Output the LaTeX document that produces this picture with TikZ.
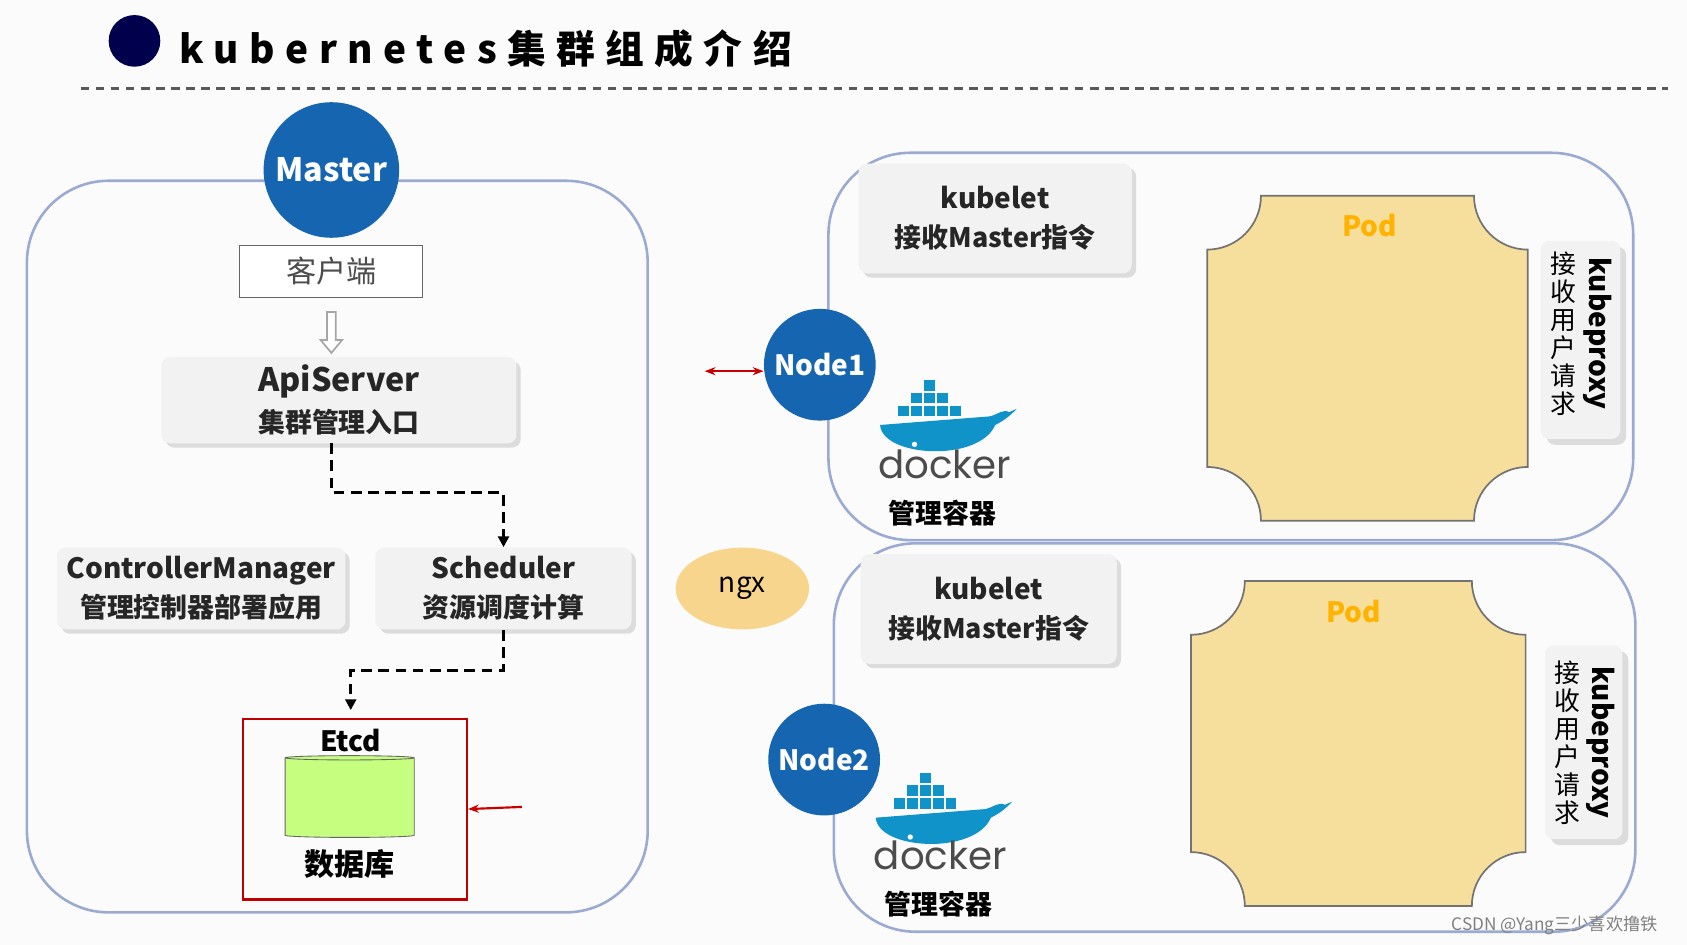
\documentclass[tikz,border=0pt]{standalone}
\usepackage{fontspec}
\setmainfont{Noto Sans CJK SC}
\newfontfamily\ttl[LetterSpace=27]{Noto Sans CJK SC}
\newfontfamily\dk{Poppins}
\usetikzlibrary{arrows.meta,shadows,shapes.geometric}
\definecolor{kblue}{HTML}{1565B0}
\definecolor{panel}{HTML}{9AAAD0}
\definecolor{podc}{HTML}{F6DE9C}
\tikzset{
 pnl/.style={draw=panel,line width=1.2pt,rounded corners=38pt},
 circ/.style={circle,fill=kblue,text=white,font=\bfseries},
 gbox/.style={rounded corners=4pt,fill=gray!10,drop shadow={opacity=0.25,shadow xshift=2pt,shadow yshift=-2pt},align=center,font=\bfseries\fontsize{13}{18}\selectfont,text=black!85},
 dsh/.style={dashed,line width=1.5pt,dash pattern=on 5pt off 3pt,-{Triangle[length=5pt,width=5pt]}},
 pod/.style={fill=podc,draw=black!55,line width=0.8pt},
 vbox/.style={rounded corners=4pt,fill=gray!10,drop shadow={opacity=0.25}},
}
\newcommand{\podshape}[4]{% x1 y1 x2 y2
 \path[pod] (#1+50,#2) -- (#3-50,#2) arc[start angle=180,end angle=270,radius=25pt]
 -- (#3,#4-50) arc[start angle=90,end angle=180,radius=25pt]
 -- (#1+50,#4) arc[start angle=0,end angle=90,radius=25pt]
 -- (#1,#2+50) arc[start angle=270,end angle=360,radius=25pt] -- cycle;}
\newcommand{\whale}[2]{%
 \begin{scope}[shift={(#1,#2)}]
 \fill[kblue!70!cyan] (-62,10) .. controls (-60,40) and (30,45) .. (45,10) .. controls (55,5) and (60,0) .. (65,-5) -- (58,-2) .. controls (52,-5) and (48,0) .. (40,2) -- cycle;
 \foreach \cx/\cy in {-45/2,-33/2,-21/2,-9/2,3/2,-33/-10,-21/-10,-9/-10,-21/-22}
   \fill[kblue!70!cyan] (\cx,\cy) rectangle ++(10,-10);
 \fill[white] (-30,28) circle (2.5);
 \end{scope}}
\begin{document}
\begin{tikzpicture}[x=0.5pt,y=-0.5pt]
\useasboundingbox[fill=gray!3] (0,0) rectangle (1568,878);
% title
\fill[blue!30!black] (125,38) circle (24);
\node[anchor=west,font=\ttl\bfseries\fontsize{18}{20}\selectfont] (title) at (160,45) {kubernetes集群组成介绍};
\draw[dashed,line width=1.2pt,gray!70!black,dash pattern=on 4pt off 3pt] (75,82) -- (1550,82);
% master panel
\draw[pnl] (25,168) rectangle (602,848);
\node[circ,minimum size=63pt,font=\bfseries\fontsize{15}{17}\selectfont] (master) at (308,158) {Master};
\node[draw=black!60,fill=white,minimum width=85pt,minimum height=24pt,font=\fontsize{14}{16}\selectfont,text=black!70] (client) at (308,252) {客户端};
\node[gbox,minimum width=165pt,minimum height=40pt,font=\bfseries\fontsize{15}{19}\selectfont] (api) at (315,372) {ApiServer\\{\fontsize{12.5}{14}\selectfont 集群管理入口}};
\draw[draw=gray!70,fill=white,line width=0.8pt] (304,290) -- (312,290) -- (312,316) -- (318,316) -- (308,328) -- (298,316) -- (304,316) -- cycle;
\node[gbox,minimum width=134pt,minimum height=38pt] (cm) at (187,547) {ControllerManager\\{\fontsize{12.5}{14}\selectfont 管理控制器部署应用}};
\node[gbox,minimum width=119pt,minimum height=38pt] (sch) at (468,547) {Scheduler\\{\fontsize{12.5}{14}\selectfont 资源调度计算}};
\draw[dsh] (308,412) -- (308,458) -- (468,458) -- (sch.north);
\node[draw=red!75!black,line width=1pt,minimum width=104pt,minimum height=84pt] (etcd) at (330,752) {};
\draw[dsh] (sch.south) -- (468,623) -- (326,623) -- (326,660);
\node[font=\bfseries\fontsize{13}{15}\selectfont] (etcdl) at (326,688) {Etcd};
\node[cylinder,shape border rotate=90,aspect=0.3,draw=black!60,fill=green!45!yellow!50,minimum width=60pt,minimum height=38pt] (db) at (325,742) {};
\node[font=\bfseries\fontsize{14}{16}\selectfont] (dbl) at (325,803) {数据库};
\coordinate (ra) at (485,750);
\draw[red!80!black,line width=1pt,-{Stealth[length=5pt]}] (ra) -- (etcd.east);
% node panels
\draw[pnl] (770,142) rectangle (1518,502);
\draw[pnl] (775,505) rectangle (1520,866);
\node[circ,minimum size=50pt,font=\bfseries\fontsize{13}{15}\selectfont] (n1) at (762,339) {Node1};
\node[circ,minimum size=50pt,font=\bfseries\fontsize{13}{15}\selectfont] (n2) at (766,706) {Node2};
\coordinate (ll) at (655,345);
\draw[red!80!black,line width=1pt,{Stealth[length=5pt]}-{Stealth[length=5pt]}] (ll) -- (n1.west|-ll);
\node[ellipse,fill=podc!90!orange,minimum width=62pt,minimum height=38pt,font=\fontsize{13}{15}\selectfont] (ngx) at (690,547) {ngx};
\node[gbox,minimum width=127pt,minimum height=51pt] (k1) at (925,203) {kubelet\\{\fontsize{12.5}{14}\selectfont 接收Master指令}};
\node[gbox,minimum width=119pt,minimum height=51pt] (k2) at (919,566) {kubelet\\{\fontsize{12.5}{14}\selectfont 接收Master指令}};
\whale{880}{385}
\whale{876}{750}
\node[font=\dk\fontsize{18}{20}\selectfont,text=black!70] (d1) at (878,432) {docker};
\node[font=\bfseries\fontsize{12.5}{14}\selectfont] (g1) at (876,477) {管理容器};
\node[font=\dk\fontsize{18}{20}\selectfont,text=black!70] (d2) at (874,795) {docker};
\node[font=\bfseries\fontsize{12.5}{14}\selectfont] (g2) at (872,840) {管理容器};
\podshape{1122}{182}{1420}{484}
\podshape{1107}{540}{1418}{842}
\node[font=\bfseries\fontsize{13}{15}\selectfont,text=orange!60!yellow] (p1) at (1273,210) {Pod};
\node[font=\bfseries\fontsize{13}{15}\selectfont,text=orange!60!yellow] (p2) at (1258,568) {Pod};
\node[vbox,minimum width=37pt,minimum height=92pt] (kp1) at (1469,316) {};
\node[vbox,minimum width=36pt,minimum height=90pt] (kp2) at (1472,690) {};
\node[rotate=-90,font=\bfseries\fontsize{13}{15}\selectfont] at (1485,310) {kubeproxy};
\node[align=center,font=\fontsize{12}{13}\selectfont] at (1453,310) {接\\收\\用\\户\\请\\求};
\node[rotate=-90,font=\bfseries\fontsize{13}{15}\selectfont] at (1488,690) {kubeproxy};
\node[align=center,font=\fontsize{12}{13}\selectfont] at (1457,690) {接\\收\\用\\户\\请\\求};
\node[font=\fontsize{8}{9}\selectfont,text=gray] (wm) at (1445,860) {CSDN @Yang三少喜欢撸铁};
\end{tikzpicture}
\end{document}
